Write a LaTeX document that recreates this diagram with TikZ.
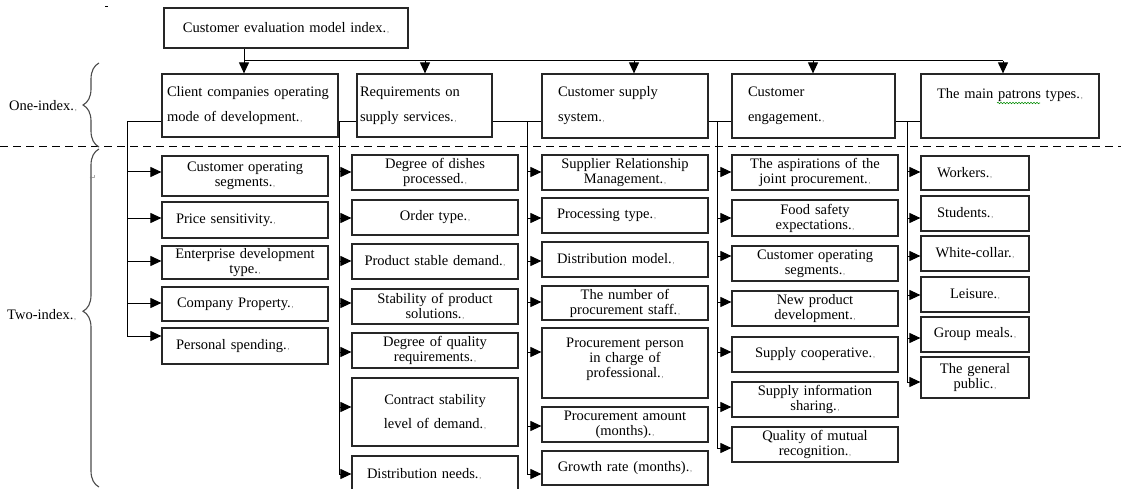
\documentclass[tikz,border=0pt]{standalone}
\usepackage{fontspec}
\setmainfont{Liberation Serif}
\newfontfamily\dejavu{DejaVu Sans}
\usetikzlibrary{arrows.meta,decorations.pathreplacing,decorations.pathmorphing,calc}
\newcommand{\pmk}{.\kern0.8pt{\color{black!55}\fontsize{8}{8}\selectfont,}}
% style, name, x1, y1, x2, y2, xsep, text
\newcommand{\bx}[8]{%
  \pgfmathsetmacro{\bw}{#5-#3}\pgfmathsetmacro{\bh}{#6-#4}%
  \pgfmathsetmacro{\bcx}{(#3+#5)/2}\pgfmathsetmacro{\bcy}{(#4+#6)/2}%
  \pgfmathsetmacro{\tw}{#5-#3-2*#7}%
  \node[#1, inner xsep=#7pt, inner ysep=0pt, minimum width=\bw pt, minimum height=\bh pt, text width=\tw pt] (#2) at (\bcx,\bcy) {#8};}
% column x, node name, y
\newcommand{\ar}[3]{\coordinate (#2s) at (#1,#3);\draw[arr] (#2s) -- (#2s -| #2.west);}
\tikzset{
  bxs/.style={draw=black!85, line width=1.2pt, font=\fontsize{14.5}{15}\selectfont, align=center},
  bxl/.style={bxs, align=left},
  arr/.style={line width=1pt, -{Triangle[length=11pt,width=10pt]}},
  ln/.style={line width=1pt},
  brc/.style={draw=black!70, line width=1.1pt, decorate},
  lab/.style={inner sep=0pt, anchor=west, font=\fontsize{14.5}{15}\selectfont},
}
\begin{document}
\begin{tikzpicture}[x=1pt,y=-1pt]
\useasboundingbox (0,0) rectangle (1121,489);
\fill[white] (0,0) rectangle (1121,489);

% stray mark
\draw[line width=0.8pt] (105,6) -- (108,6);

% root and level one
\bx{bxs}{root}{164}{8}{408}{48}{4}{Customer evaluation model index\pmk}
\bx{bxl}{B1}{162}{74}{338}{137}{5}{Client companies operating\\[10pt]mode of development\pmk}
\bx{bxl}{B2}{357}{74}{492}{137}{3}{Requirements on\\[10pt]supply services\pmk}
\bx{bxl}{B3}{542}{74}{708}{138}{16}{Customer supply\\[10pt]system\pmk}
\bx{bxl}{B4}{732}{74}{895}{138}{16}{Customer\\[10pt]engagement\pmk}
\bx{bxl}{B5}{921}{74}{1099}{138}{16}{The main patrons types\pmk\\[10pt]\mbox{}}
\draw[green!55!black, line width=0.6pt, decorate, decoration={snake, amplitude=0.7pt, segment length=3pt}] (997,103) -- (1040,103);

% top bus
\coordinate (t1) at (244,61);
\coordinate (t2) at (425,61);
\coordinate (t3) at (634,61);
\coordinate (t4) at (813,61);
\coordinate (t5) at (1003,61);
\draw[ln] (root.south -| t1) -- (t1) -- (t5);
\draw[arr] (t1) -- (t1 |- B1.north);
\draw[arr] (t2) -- (t2 |- B2.north);
\draw[arr] (t3) -- (t3 |- B3.north);
\draw[arr] (t4) -- (t4 |- B4.north);
\draw[arr] (t5) -- (t5 |- B5.north);

% dashed separator
\coordinate (dl) at (0,147);
\coordinate (dr) at (1121,147);
\draw[line width=1pt, dash pattern=on 8pt off 5pt] (dl) -- (dr);

% column 1
\bx{bxs}{p11}{162}{156}{328}{196}{4}{Customer operating\\segments\pmk}
\bx{bxl}{p12}{162}{202}{328}{238}{14}{Price sensitivity\pmk}
\bx{bxs}{p13}{162}{246}{328}{279}{4}{Enterprise development\\type\pmk}
\bx{bxl}{p14}{162}{287}{328}{321}{15}{Company Property\pmk}
\bx{bxl}{p15}{162}{328}{328}{364}{14}{Personal spending\pmk}

% column 2
\bx{bxs}{p21}{352}{155}{518}{190}{4}{Degree of dishes\\processed\pmk}
\bx{bxs}{p22}{352}{200}{518}{235}{4}{Order type\pmk}
\bx{bxs}{p23}{352}{244}{518}{279}{4}{Product stable demand\pmk}
\bx{bxs}{p24}{352}{289}{518}{324}{4}{Stability of product\\solutions\pmk}
\bx{bxs}{p25}{352}{333}{518}{368}{4}{Degree of quality\\requirements\pmk}
\bx{bxs}{p26}{352}{378}{518}{446}{4}{Contract stability\\[9pt]level of demand\pmk}
\bx{bxl}{p27}{352}{456}{518}{492}{15}{Distribution needs\pmk}

% column 3
\bx{bxs}{p31}{542}{155}{708}{190}{4}{Supplier Relationship\\Management\pmk}
\bx{bxl}{p32}{542}{198}{708}{233}{15}{Processing type\pmk}
\bx{bxl}{p33}{542}{242}{708}{277}{15}{Distribution model\pmk}
\bx{bxs}{p34}{542}{286}{708}{320}{4}{The number of\\procurement staff\pmk}
\bx{bxs}{p35}{542}{328}{708}{398}{4}{Procurement person\\in charge of\\professional\pmk\\[-4pt]\mbox{}}
\bx{bxs}{p36}{542}{407}{708}{442}{4}{Procurement amount\\(months)\pmk}
\bx{bxs}{p37}{542}{451}{708}{485}{4}{Growth rate (months)\pmk}

% column 4
\bx{bxs}{p41}{732}{155}{898}{190}{4}{The aspirations of the\\joint procurement\pmk}
\bx{bxs}{p42}{732}{200}{898}{236}{4}{Food safety\\expectations\pmk}
\bx{bxs}{p43}{732}{246}{898}{281}{4}{Customer operating\\segments\pmk}
\bx{bxs}{p44}{732}{291}{898}{326}{4}{New product\\development\pmk}
\bx{bxs}{p45}{732}{337}{898}{372}{4}{Supply cooperative\pmk}
\bx{bxs}{p46}{732}{382}{898}{417}{4}{Supply information\\sharing\pmk}
\bx{bxs}{p47}{732}{427}{898}{462}{4}{Quality of mutual\\recognition\pmk}

% column 5
\bx{bxl}{p51}{921}{156}{1029}{190}{16}{Workers\pmk}
\bx{bxl}{p52}{921}{196}{1029}{231}{16}{Students\pmk}
\bx{bxs}{p53}{921}{236}{1029}{271}{3}{White-collar\pmk}
\bx{bxs}{p54}{921}{277}{1029}{312}{3}{Leisure\pmk}
\bx{bxs}{p55}{921}{317}{1029}{352}{3}{Group meals\pmk}
\bx{bxs}{p56}{921}{357}{1029}{398}{3}{The general\\public\pmk}

% arrows
\ar{127}{p11}{172}\ar{127}{p12}{218}\ar{127}{p13}{261}\ar{127}{p14}{303}\ar{127}{p15}{336}
\ar{339}{p21}{172}\ar{339}{p22}{218}\ar{339}{p23}{261}\ar{339}{p24}{303}\ar{339}{p25}{352}\ar{339}{p26}{407}\ar{339}{p27}{474}
\ar{527}{p31}{172}\ar{527}{p32}{218}\ar{527}{p33}{261}\ar{527}{p34}{302}\ar{527}{p35}{352}\ar{527}{p36}{426}\ar{527}{p37}{474}
\ar{717}{p41}{172}\ar{717}{p42}{218}\ar{717}{p43}{256}\ar{717}{p44}{302}\ar{717}{p45}{352}\ar{717}{p46}{407}\ar{717}{p47}{448}
\ar{907}{p51}{172}\ar{907}{p52}{218}\ar{907}{p53}{256}\ar{907}{p54}{295}\ar{907}{p55}{338}\ar{907}{p56}{382}

% column buses
\coordinate (c1) at (127,122);
\coordinate (c2) at (339,122);
\coordinate (c3) at (527,122);
\coordinate (c4) at (717,122);
\coordinate (c5) at (907,122);
\draw[ln] (B1.west |- c1) -- (c1) -- (p15s);
\draw[ln] (B1.east |- c2) -- (B2.west |- c2);
\draw[ln] (c2) -- (p27s);
\draw[ln] (B2.east |- c3) -- (B3.west |- c3);
\draw[ln] (c3) -- (p37s);
\draw[ln] (B3.east |- c4) -- (B4.west |- c4);
\draw[ln] (c4) -- (p47s);
\draw[ln] (B4.east |- c5) -- (B5.west |- c5);
\draw[ln] (c5) -- (p56s);

% braces and labels
\coordinate (b1s) at (99,147);
\coordinate (b1e) at (99,63);
\coordinate (b2s) at (99,487);
\coordinate (b2e) at (99,149);
\draw[brc, decoration={brace, amplitude=16pt}] (b1s) -- (b1e);
\draw[brc, decoration={brace, amplitude=16pt, aspect=0.52}] (b2s) -- (b2e);
\node[lab] (one) at (9,106) {One-index\pmk};
\node[lab] (two) at (7,315) {Two-index\pmk};
\node[inner sep=0pt, font=\dejavu\fontsize{8}{8}\selectfont, text=black!50] (rmark) at (93,178) {↵};
\end{tikzpicture}
\end{document}
